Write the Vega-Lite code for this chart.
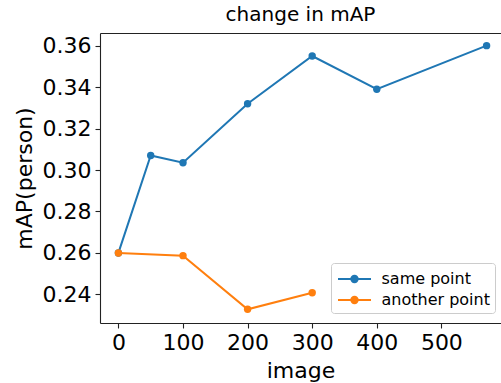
{
  "$schema": "https://vega.github.io/schema/vega-lite/v6.json",
  "width": 401,
  "height": 290,
  "autosize": {"type": "none"},
  "padding": {"left": 100, "top": 33, "right": 0, "bottom": 60},
  "background": "white",
  "title": {"text": "change in mAP", "fontSize": 20, "font": "DejaVu Sans", "fontWeight": "normal", "color": "black", "offset": 8, "anchor": "middle"},
  "config": {
    "view": {"stroke": null},
    "font": "DejaVu Sans",
    "axis": {
      "grid": false,
      "labelFont": "DejaVu Sans",
      "titleFont": "DejaVu Sans",
      "labelFontSize": 22,
      "titleFontSize": 22,
      "titleFontWeight": "normal",
      "labelColor": "black",
      "titleColor": "black",
      "domainColor": "#222222",
      "tickColor": "#222222",
      "domainWidth": 1.1,
      "tickWidth": 1.1,
      "tickSize": 5,
      "labelPadding": 4
    }
  },
  "data": {
    "values": [
      {"image": 0, "mAP": 0.260, "series": "same point"},
      {"image": 50, "mAP": 0.307, "series": "same point"},
      {"image": 100, "mAP": 0.3035, "series": "same point"},
      {"image": 200, "mAP": 0.332, "series": "same point"},
      {"image": 300, "mAP": 0.355, "series": "same point"},
      {"image": 400, "mAP": 0.339, "series": "same point"},
      {"image": 570, "mAP": 0.360, "series": "same point"},
      {"image": 0, "mAP": 0.260, "series": "another point"},
      {"image": 100, "mAP": 0.2587, "series": "another point"},
      {"image": 200, "mAP": 0.2328, "series": "another point"},
      {"image": 300, "mAP": 0.2408, "series": "another point"}
    ]
  },
  "resolve": {"axis": {"x": "independent"}},
  "layer": [
    {
      "mark": {"type": "line", "strokeWidth": 2},
      "encoding": {
        "x": {"field": "image", "type": "quantitative", "scale": {"domain": [-28.5, 592.3], "nice": false, "zero": false},
              "axis": {"values": [0, 100, 200, 300, 400, 500], "title": "image", "titlePadding": 7}},
        "y": {"field": "mAP", "type": "quantitative", "scale": {"domain": [0.2262, 0.3661], "nice": false, "zero": false},
              "axis": {"values": [0.24, 0.26, 0.28, 0.30, 0.32, 0.34, 0.36], "format": ".2f", "title": "mAP(person)", "titlePadding": 6}},
        "color": {"field": "series", "type": "nominal",
                  "scale": {"domain": ["same point", "another point"], "range": ["#1f77b4", "#ff7f0e"]},
                  "legend": {
                    "title": null,
                    "orient": "none",
                    "legendX": 231,
                    "legendY": 230,
                    "padding": 5,
                    "fillColor": "rgba(255,255,255,0.8)",
                    "strokeColor": "#cccccc",
                    "cornerRadius": 3,
                    "labelFont": "DejaVu Sans",
                    "labelFontSize": 16,
                    "labelColor": "black",
                    "symbolType": "M-1.65,0L1.65,0M0.32,0A0.32,0.32,0,1,1,-0.32,0A0.32,0.32,0,1,1,0.32,0Z",
                    "symbolSize": 400,
                    "symbolStrokeWidth": 2,
                    "symbolOffset": 7.5,
                    "labelOffset": 16,
                    "rowPadding": 2,
                    "encode": {"symbols": {"update": {"fill": {"scale": "color", "field": "value"}, "stroke": {"scale": "color", "field": "value"}, "opacity": {"value": 1}}}}
                  }}
      }
    },
    {
      "mark": {"type": "point", "filled": true, "size": 55, "opacity": 1},
      "encoding": {
        "x": {"field": "image", "type": "quantitative",
              "axis": {"orient": "top", "labels": false, "ticks": false, "title": null, "domain": true}},
        "y": {"field": "mAP", "type": "quantitative"},
        "color": {"field": "series", "type": "nominal"}
      }
    }
  ]
}
